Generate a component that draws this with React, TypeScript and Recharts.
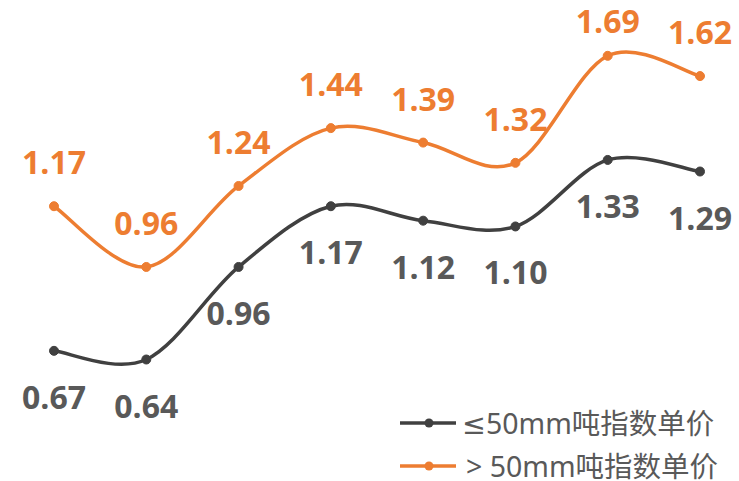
import { LineChart, Line, XAxis, YAxis, LabelList } from "recharts";

const periods = ["P1", "P2", "P3", "P4", "P5", "P6", "P7", "P8"];
const smallPrice = [0.67, 0.64, 0.96, 1.17, 1.12, 1.1, 1.33, 1.29];
const bigPrice = [1.17, 0.96, 1.24, 1.44, 1.39, 1.32, 1.69, 1.62];
const seriesNames = ["≤50mm吨指数单价", "> 50mm吨指数单价"];

const data = periods.map((p, i) => ({
  period: p,
  small: smallPrice[i],
  big: bigPrice[i],
}));

const GRAY = "#404040";
const GRAY_TEXT = "#595959";
const ORANGE = "#ED7D31";

// smoothed line like office charts (catmull-rom style bezier)
const smoothCurve = (context: any) => {
  let pts: [number, number][] = [];
  return {
    areaStart() {},
    areaEnd() {},
    lineStart() {
      pts = [];
    },
    lineEnd() {
      if (!pts.length) return;
      context.moveTo(pts[0][0], pts[0][1]);
      for (let i = 0; i < pts.length - 1; i++) {
        const p0 = pts[Math.max(0, i - 1)];
        const p1 = pts[i];
        const p2 = pts[i + 1];
        const p3 = pts[Math.min(pts.length - 1, i + 2)];
        context.bezierCurveTo(
          p1[0] + (p2[0] - p0[0]) / 6,
          p1[1] + (p2[1] - p0[1]) / 6,
          p2[0] - (p3[0] - p1[0]) / 6,
          p2[1] - (p3[1] - p1[1]) / 6,
          p2[0],
          p2[1]
        );
      }
    },
    point(x: number, y: number) {
      pts.push([+x, +y]);
    },
  };
};

const labelFont = {
  fontFamily: "'Open Sans', sans-serif",
  fontWeight: 700,
  fontSize: 32,
};

const renderTopLabel = (props: any) => {
  const { x, y, value } = props;
  return (
    <text x={x} y={Math.max(y - 32, 33)} textAnchor="middle" fill={ORANGE} style={labelFont}>
      {Number(value).toFixed(2)}
    </text>
  );
};

const renderBottomLabel = (props: any) => {
  const { x, y, value } = props;
  return (
    <text x={x} y={y + 58} textAnchor="middle" fill={GRAY_TEXT} style={labelFont}>
      {Number(value).toFixed(2)}
    </text>
  );
};

function LegendRow({ color, name, top, left }: { color: string; name: string; top: number; left: number }) {
  return (
    <div style={{ position: "absolute", left: 400, top: top - 14, height: 28, display: "flex", alignItems: "center" }}>
      <svg width={56} height={12}>
        <line x1={0} y1={6} x2={56} y2={6} stroke={color} strokeWidth={3.5} />
        <circle cx={29} cy={6} r={4.5} fill={color} />
      </svg>
      <span
        style={{
          marginLeft: left,
          fontFamily: "'Noto Sans', 'DejaVu Sans', 'Noto Sans CJK SC', sans-serif",
          fontSize: 28.5,
          lineHeight: "28px",
          color: GRAY_TEXT,
          whiteSpace: "nowrap",
        }}
      >
        {name}
      </span>
    </div>
  );
}

export default function App() {
  return (
    <div style={{ position: "absolute", left: 0, top: 0, width: 739, height: 481, overflow: "hidden", background: "#fff" }}>
      <LineChart
        width={739}
        height={481}
        data={data}
        margin={{ top: 24, right: 39, bottom: 81, left: 54 }}
        style={{ overflow: "visible" }}
      >
        <XAxis dataKey="period" hide />
        <YAxis hide domain={[0.5, 1.8]} />
        <Line
          dataKey="small"
          type={smoothCurve as any}
          stroke={GRAY}
          strokeWidth={3.5}
          dot={{ r: 4.5, fill: GRAY, stroke: GRAY, strokeWidth: 1 }}
          activeDot={false}
          isAnimationActive={false}
        >
          <LabelList dataKey="small" content={renderBottomLabel} />
        </Line>
        <Line
          dataKey="big"
          type={smoothCurve as any}
          stroke={ORANGE}
          strokeWidth={3.5}
          dot={{ r: 4.5, fill: ORANGE, stroke: ORANGE, strokeWidth: 1 }}
          activeDot={false}
          isAnimationActive={false}
        >
          <LabelList dataKey="big" content={renderTopLabel} />
        </Line>
      </LineChart>
      <LegendRow color={GRAY} name={seriesNames[0]} top={423} left={6} />
      <LegendRow color={ORANGE} name={seriesNames[1]} top={466} left={10} />
    </div>
  );
}
